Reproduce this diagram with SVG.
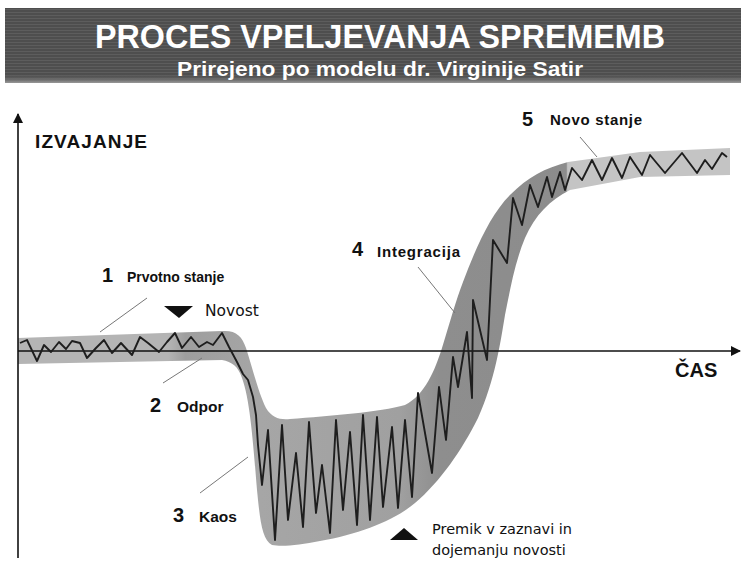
<svg xmlns="http://www.w3.org/2000/svg" width="741" height="562" viewBox="0 0 741 562">
  <defs>
    <pattern id="stripes" x="0" y="0" width="6" height="3" patternUnits="userSpaceOnUse">
      <rect width="6" height="3" fill="#4e4e4e"/>
      <rect y="0" width="6" height="1" fill="#5d5d5d"/>
    </pattern>
    <linearGradient id="hdrEdge" x1="0" y1="0" x2="0" y2="1">
      <stop offset="0" stop-color="#4e4e4e" stop-opacity="0"/>
      <stop offset="1" stop-color="#9a9a9a" stop-opacity="1"/>
    </linearGradient>
    <linearGradient id="bandFill" gradientUnits="userSpaceOnUse" x1="18" y1="0" x2="730" y2="0">
      <stop offset="0" stop-color="#b4b4b4"/>
      <stop offset="0.211" stop-color="#b4b4b4"/>
      <stop offset="0.235" stop-color="#9e9e9e"/>
      <stop offset="0.34" stop-color="#a6a6a6"/>
      <stop offset="0.536" stop-color="#a0a0a0"/>
      <stop offset="0.593" stop-color="#8e8e8e"/>
      <stop offset="0.77" stop-color="#8c8c8c"/>
      <stop offset="0.772" stop-color="#c4c4c4"/>
      <stop offset="1" stop-color="#c4c4c4"/>
    </linearGradient>
    <marker id="arrow" viewBox="0 0 10 10" refX="9" refY="5" markerWidth="10" markerHeight="10" markerUnits="userSpaceOnUse" orient="auto">
      <path d="M0,0 L10,5 L0,10 Z" fill="#111"/>
    </marker>
    <style>
      .hdr { font-family: "Liberation Sans", Arial, sans-serif; font-weight: bold; fill: #ffffff; text-anchor: middle; }
      .lbl { font-family: "Liberation Sans", Arial, sans-serif; font-weight: bold; fill: #111; }
      .num { font-family: "Liberation Sans", Arial, sans-serif; font-weight: bold; fill: #111; font-size: 20px; }
      .note { font-family: "DejaVu Sans", "Liberation Sans", sans-serif; fill: #111; }
      .axis { stroke: #111; stroke-width: 1.6; fill: none; }
      .leader { stroke: #777; stroke-width: 1; fill: none; }
      .wave { stroke: #1e1e1e; stroke-width: 1.9; fill: none; stroke-linejoin: round; }
    </style>
  </defs>

  <rect width="741" height="562" fill="#ffffff"/>

  <g id="header">
    <rect x="5" y="8" width="736" height="75" fill="url(#stripes)"/>
    <rect x="5" y="74" width="736" height="9" fill="url(#hdrEdge)"/>
    <text class="hdr" x="380" y="48" font-size="33" textLength="570" lengthAdjust="spacingAndGlyphs">PROCES VPELJEVANJA SPREMEMB</text>
    <text class="hdr" x="380" y="76" font-size="21" textLength="406" lengthAdjust="spacingAndGlyphs">Prirejeno po modelu dr. Virginije Satir</text>
  </g>

  <g id="band">
    <path fill="url(#bandFill)" d="M18,338 L222,331 C236,330 242,336 246,348 C252,366 258,392 266,408 C272,418 280,420 290,419 C330,416 380,412 405,405 C425,395 435,370 442,348 C450,322 456,300 463,282 C475,250 490,215 510,195 C528,177 545,168 568,162 L640,152 L730,148 L730,175 L640,177 L570,190 C550,200 535,215 525,238 C515,262 510,290 505,315 C500,345 495,380 478,418 C462,450 440,482 415,503 C395,520 360,534 320,541 C300,545 282,547 272,545 C262,540 260,520 257,490 C253,440 250,400 242,378 C238,366 232,362 222,360 L18,364 Z"/>
  </g>

  <g id="axes">
    <line class="axis" x1="18" y1="558" x2="18" y2="114" marker-end="url(#arrow)"/>
    <line class="axis" x1="18" y1="351" x2="740" y2="351" marker-end="url(#arrow)"/>
  </g>

  <g id="wave">
    <polyline class="wave" points="20,343 27,340 37,361 44,345 51,352 59,342 66,349 72,341 80,343 87,358 96,348 104,340 112,353 121,343 132,355 140,337 148,343 159,352 167,342 175,333 182,348 191,337 199,347 207,342 213,345 222,333 229,347 237,362 243,374 248,380 253,397 256,415 258,445 262,485 268,430 275,540 282,425 288,520 296,453 303,527 309,422 316,513 322,465 330,533 336,420 343,510 350,432 357,525 363,415 370,520 377,417 383,507 392,427 398,508 405,420 412,497 418,393 432,473 439,387 446,440 453,357 458,387 467,332 472,398 473,300 487,360 493,240 507,263 513,198 522,225 530,185 538,207 547,177 552,197 560,172 565,190 572,168 582,180 592,160 602,180 612,158 622,178 630,157 642,175 650,155 665,173 682,153 697,173 705,160 712,169 722,153 727,157"/>
  </g>

  <g id="connectors">
    <line class="leader" x1="100" y1="332" x2="147" y2="298"/>
    <line class="leader" x1="163" y1="383" x2="202" y2="358"/>
    <line class="leader" x1="200" y1="493" x2="248" y2="457"/>
    <line class="leader" x1="418" y1="267" x2="455" y2="313"/>
    <line class="leader" x1="580" y1="137" x2="597" y2="157"/>
  </g>

  <g id="label-izvajanje">
    <text class="lbl" x="35" y="148" font-size="19" textLength="112" lengthAdjust="spacing">IZVAJANJE</text>
  </g>
  <g id="label-cas">
    <text class="lbl" x="675" y="377" font-size="20">ČAS</text>
  </g>

  <g id="stage1">
    <text class="num" x="102" y="282">1</text>
    <text class="lbl" x="127" y="282" font-size="14">Prvotno stanje</text>
  </g>
  <g id="novost">
    <polygon points="164,306 193,306 179,318" fill="#111"/>
    <text class="note" x="205" y="316" font-size="15.5">Novost</text>
  </g>
  <g id="stage2">
    <text class="num" x="150" y="412">2</text>
    <text class="lbl" x="177" y="412" font-size="15.5">Odpor</text>
  </g>
  <g id="stage3">
    <text class="num" x="173" y="522">3</text>
    <text class="lbl" x="199" y="522" font-size="15.5">Kaos</text>
  </g>
  <g id="stage4">
    <text class="num" x="352" y="256">4</text>
    <text class="lbl" x="377" y="257" font-size="15" textLength="83" lengthAdjust="spacing">Integracija</text>
  </g>
  <g id="stage5">
    <text class="num" x="522" y="126">5</text>
    <text class="lbl" x="550" y="125" font-size="15" textLength="92" lengthAdjust="spacing">Novo stanje</text>
  </g>
  <g id="premik">
    <polygon points="404,528 418,540 390,540" fill="#111"/>
    <text class="note" x="432" y="534" font-size="14.5">Premik v zaznavi in</text>
    <text class="note" x="432" y="555" font-size="14.5">dojemanju novosti</text>
  </g>
</svg>
